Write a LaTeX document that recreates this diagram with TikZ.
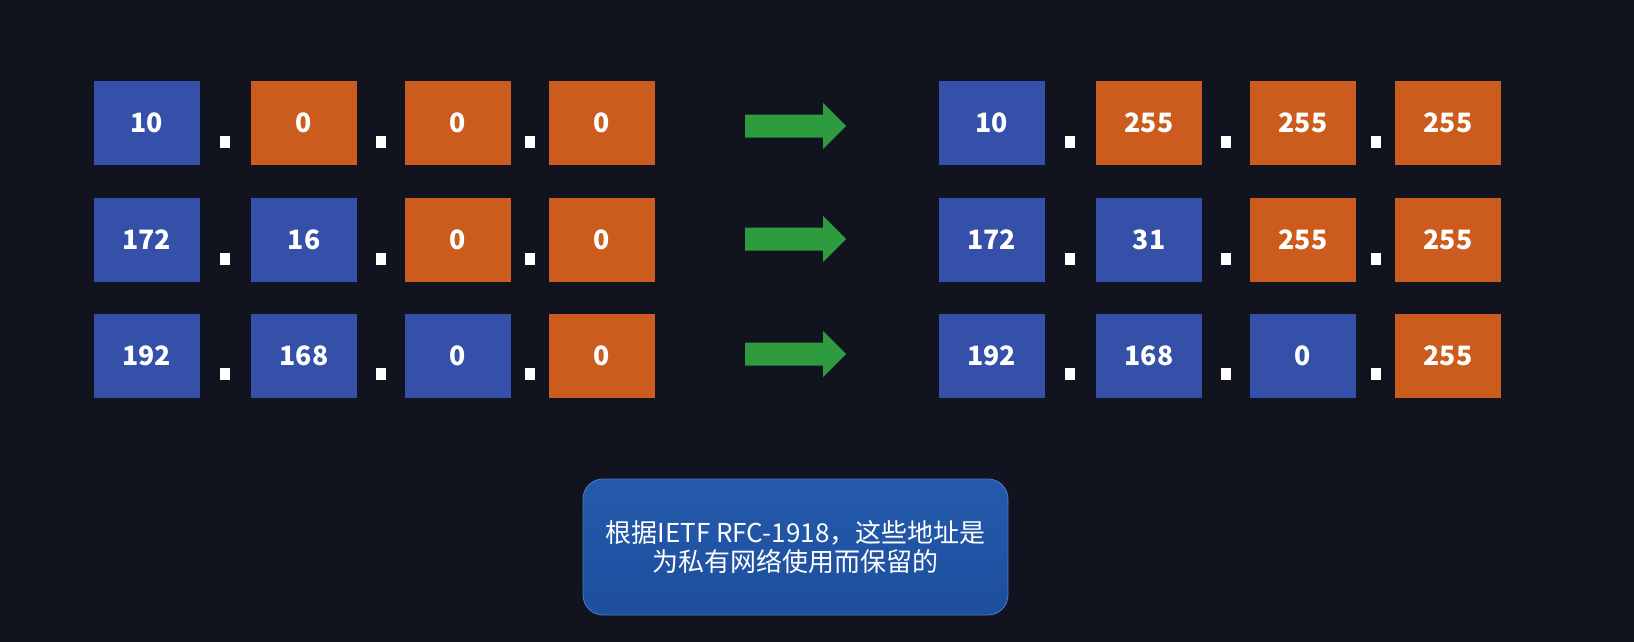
\documentclass[tikz,border=0pt]{standalone}
\usepackage{fontspec}
\setmainfont{Noto Sans CJK SC}
\newfontfamily\cjk{Noto Sans CJK SC}
\definecolor{bg}{RGB}{17,20,30}
\definecolor{blu}{RGB}{52,80,168}
\definecolor{org}{RGB}{203,92,30}
\definecolor{grn}{RGB}{46,155,62}
\definecolor{note}{RGB}{30,78,158}
\definecolor{notetop}{RGB}{36,90,172}
\begin{document}
\begin{tikzpicture}[x=0.75pt,y=-0.75pt,
  octet/.style={minimum width=79.5pt,minimum height=63pt,inner sep=0pt,
    text=white,font=\cjk\bfseries\fontsize{20}{24}\selectfont},
  netb/.style={octet,fill=blu},
  hostb/.style={octet,fill=org},
  sep/.style={fill=white,minimum width=7.5pt,minimum height=9pt,inner sep=0pt},
  arr/.style={fill=grn},
  notebox/.style={rounded corners=15pt,top color=notetop,bottom color=note,
    draw=notetop!80!white,line width=0.6pt,
    minimum width=318.75pt,minimum height=102pt,text=white,align=center,
    font=\cjk\fontsize{19.5}{21.75}\selectfont}]
\fill[bg] (0,0) rectangle (1634,642);
\useasboundingbox (0,0) rectangle (1634,642);
% left column
\node[netb]  (a1) at (146.5,123) {10};
\node[hostb] (a2) at (304,123) {0};
\node[hostb] (a3) at (458,123) {0};
\node[hostb] (a4) at (601.5,123) {0};
\node[netb]  (b1) at (146.5,239.5) {172};
\node[netb]  (b2) at (304,239.5) {16};
\node[hostb] (b3) at (458,239.5) {0};
\node[hostb] (b4) at (601.5,239.5) {0};
\node[netb]  (c1) at (146.5,356) {192};
\node[netb]  (c2) at (304,356) {168};
\node[netb]  (c3) at (458,356) {0};
\node[hostb] (c4) at (601.5,356) {0};
% right column
\node[netb]  (d1) at (991.5,123) {10};
\node[hostb] (d2) at (1149,123) {255};
\node[hostb] (d3) at (1303,123) {255};
\node[hostb] (d4) at (1448,123) {255};
\node[netb]  (e1) at (991.5,239.5) {172};
\node[netb]  (e2) at (1149,239.5) {31};
\node[hostb] (e3) at (1303,239.5) {255};
\node[hostb] (e4) at (1448,239.5) {255};
\node[netb]  (f1) at (991.5,356) {192};
\node[netb]  (f2) at (1149,356) {168};
\node[netb]  (f3) at (1303,356) {0};
\node[hostb] (f4) at (1448,356) {255};
% dots
\foreach \r/\y in {a/142,b/258.5,c/374,d/142,e/258.5,f/374}{
  \foreach \i/\j in {1/2,2/3,3/4}{
    \path (\r\i.east) -- (\r\j.west) coordinate[pos=0.5] (m\r\i);
    \node[sep] (dot\r\i) at (m\r\i |- 0,\y) {};
  }
}
% arrows
\foreach \n/\y in {1/126,2/239,3/354}{
  \coordinate (ar\n) at (745,\y);
  \fill[arr] (ar\n) ++(0,-11.5) -- ++(78,0) -- ++(0,-11.5) -- ++(23,23)
    -- ++(-23,23) -- ++(0,-11.5) -- ++(-78,0) -- cycle;
}
% note
\node[notebox] (note) at (795.5,547) {根据IETF RFC-1918，这些地址是\\为私有网络使用而保留的};
\end{tikzpicture}
\end{document}
